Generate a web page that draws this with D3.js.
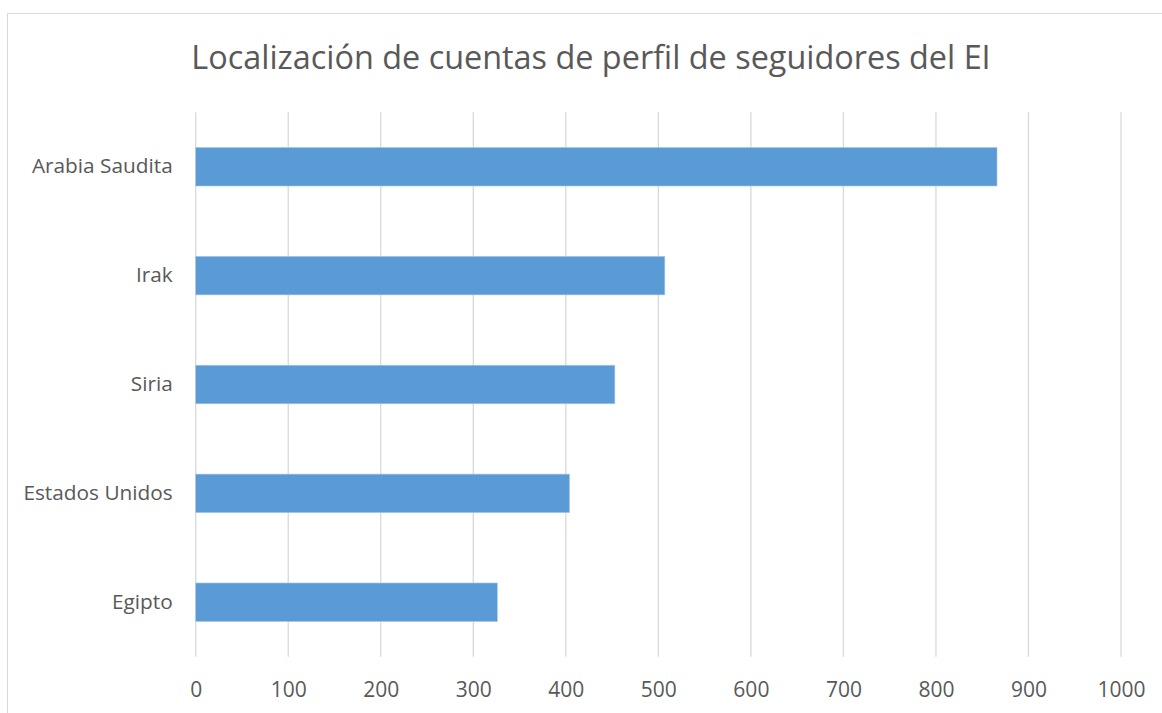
<!DOCTYPE html>
<html>
<head>
<meta charset="utf-8">
<script src="https://cdn.jsdelivr.net/npm/d3@7"></script>
<style>
  html, body { margin: 0; padding: 0; background: #ffffff; }
  svg { display: block; }
</style>
</head>
<body>
<svg id="chart" width="1162" height="713"></svg>
<script>
const categories = ["Arabia Saudita", "Irak", "Siria", "Estados Unidos", "Egipto"];
const values = [866, 507, 453, 404, 326];
const xTicks = [0, 100, 200, 300, 400, 500, 600, 700, 800, 900, 1000];
const title = "Localización de cuentas de perfil de seguidores del EI";

const svg = d3.select("#chart");
const W = 1162, H = 713;
const margin = { left: 195.7, right: W - 1121, top: 112.3, bottom: H - 656.7 };

// chart border
svg.append("rect")
  .attr("x", 7.5).attr("y", 13.5)
  .attr("width", 1180).attr("height", 720)
  .attr("fill", "#fff")
  .attr("stroke", "#d9d9d9")
  .attr("stroke-width", 1);

const x = d3.scaleLinear().domain([0, 1000]).range([margin.left, W - margin.right]);
const y = d3.scaleBand().domain(categories).range([margin.top, H - margin.bottom]).paddingInner(0.646).paddingOuter(0.323);

// gridlines
svg.append("g")
  .selectAll("line")
  .data(xTicks)
  .join("line")
  .attr("x1", d => x(d)).attr("x2", d => x(d))
  .attr("y1", margin.top).attr("y2", H - margin.bottom)
  .attr("stroke", "#d9d9d9")
  .attr("stroke-width", 1.3);

// bars
svg.append("g")
  .selectAll("rect")
  .data(categories)
  .join("rect")
  .attr("x", x(0))
  .attr("y", d => y(d))
  .attr("width", (d, i) => x(values[i]) - x(0))
  .attr("height", y.bandwidth())
  .attr("fill", "#5b9bd5")
  .attr("stroke", "#a9c9ea")
  .attr("stroke-width", 0.6);

// x axis labels
const xAxis = d3.axisBottom(x).tickValues(xTicks).tickFormat(d3.format("d")).tickSize(0).tickPadding(25);
const gx = svg.append("g")
  .attr("transform", `translate(0,${H - margin.bottom})`)
  .call(xAxis);
gx.select(".domain").remove();
gx.selectAll("text")
  .attr("fill", "#595959")
  .style("font-family", "'Open Sans', sans-serif")
  .style("font-size", "21px");

// y axis labels
const yAxis = d3.axisLeft(y).tickSize(0).tickPadding(23);
const gy = svg.append("g")
  .attr("transform", `translate(${margin.left},0)`)
  .call(yAxis);
gy.select(".domain").remove();
gy.selectAll("text")
  .attr("fill", "#595959")
  .style("font-family", "'Open Sans', sans-serif")
  .style("font-size", "20.8px");

// title
svg.append("text")
  .attr("x", 591)
  .attr("y", 69)
  .attr("text-anchor", "middle")
  .attr("fill", "#595959")
  .style("font-family", "'Open Sans', sans-serif")
  .style("font-size", "32.4px")
  .text(title);
</script>
</body>
</html>
